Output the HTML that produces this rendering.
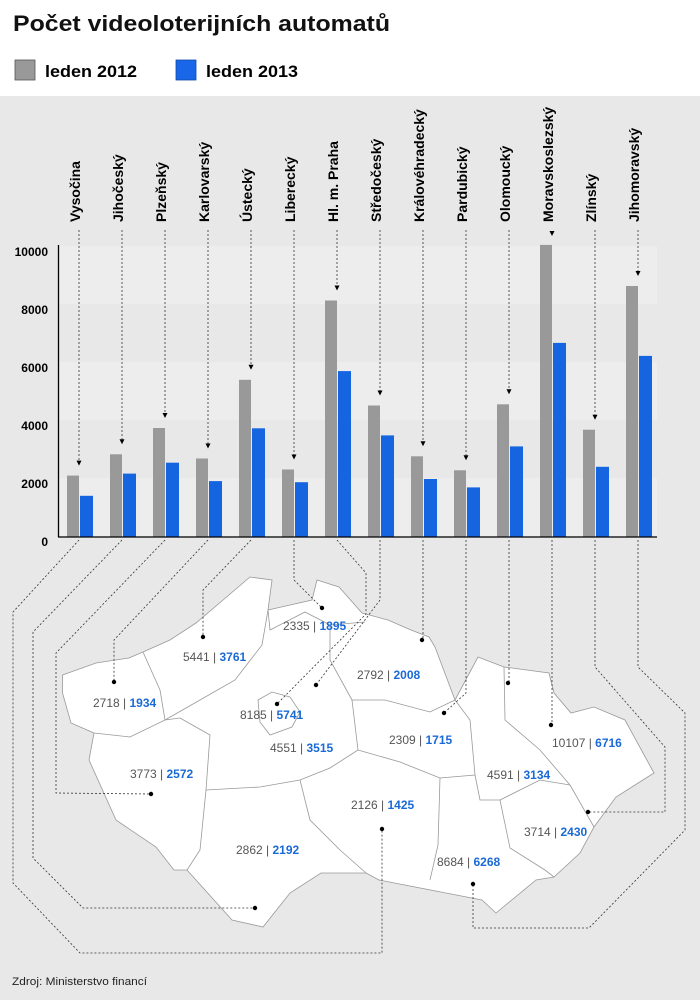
<!DOCTYPE html>
<html><head><meta charset="utf-8"><style>
html,body{margin:0;padding:0;width:700px;height:1000px;overflow:hidden;background:#fff}
svg{display:block}
text{font-family:"Liberation Sans",Arial,sans-serif}
.yl{font-size:12px;font-weight:bold;text-anchor:end}
.rl{font-size:14px;font-weight:bold}
.dl{stroke:#333;stroke-width:0.8;stroke-dasharray:2,2;fill:none}
.g{fill:#555;font-size:12px}
.b{fill:#1a6ad6;font-size:12px;font-weight:bold}
.reg{fill:none;stroke:#999;stroke-width:0.8}
.ga{fill:#999}.bl{fill:#1565e0}
</style></head><body>
<svg width="700" height="1000" viewBox="0 0 700 1000" xmlns="http://www.w3.org/2000/svg">
<rect x="0" y="0" width="700" height="96" fill="#fff"/>
<rect x="0" y="96" width="700" height="904" fill="#e8e8e8"/>
<text x="13" y="31" font-size="22" font-weight="bold" fill="#111" textLength="377" lengthAdjust="spacingAndGlyphs">Počet videoloterijních automatů</text>
<rect x="15" y="60" width="20" height="20" fill="#999" stroke="#555" stroke-width="0.8"/>
<text x="45" y="77" font-size="17" font-weight="bold" textLength="92" lengthAdjust="spacingAndGlyphs">leden 2012</text>
<rect x="176" y="60" width="20" height="20" fill="#1a66e8" stroke="#124ba8" stroke-width="0.8"/>
<text x="206" y="77" font-size="17" font-weight="bold" textLength="92" lengthAdjust="spacingAndGlyphs">leden 2013</text>

<rect x="59" y="246" width="598" height="58" fill="#ededed"/>
<rect x="59" y="362" width="598" height="58" fill="#ededed"/>
<rect x="59" y="478" width="598" height="58" fill="#ededed"/>

<g class="yl">
<text x="48" y="256">10000</text><text x="48" y="314">8000</text><text x="48" y="372">6000</text>
<text x="48" y="430">4000</text><text x="48" y="488">2000</text><text x="48" y="546">0</text>
</g>

<g class="rl">
<text transform="translate(80,222) rotate(-90)">Vysočina</text>
<text transform="translate(123,222) rotate(-90)">Jihočeský</text>
<text transform="translate(166,222) rotate(-90)">Plzeňský</text>
<text transform="translate(209,222) rotate(-90)">Karlovarský</text>
<text transform="translate(252,222) rotate(-90)">Ústecký</text>
<text transform="translate(295,222) rotate(-90)">Liberecký</text>
<text transform="translate(338,222) rotate(-90)">Hl. m. Praha</text>
<text transform="translate(381,222) rotate(-90)">Středočeský</text>
<text transform="translate(424,222) rotate(-90)">Královéhradecký</text>
<text transform="translate(467,222) rotate(-90)">Pardubický</text>
<text transform="translate(510,222) rotate(-90)">Olomoucký</text>
<text transform="translate(553,222) rotate(-90)">Moravskoslezský</text>
<text transform="translate(596,222) rotate(-90)">Zlínský</text>
<text transform="translate(639,222) rotate(-90)">Jihomoravský</text>
</g>

<rect class="ga" x="67" y="475.6" width="12" height="61.4"/><rect class="bl" x="80" y="495.8" width="13" height="41.2"/>
<rect class="ga" x="110" y="454.3" width="12" height="82.7"/><rect class="bl" x="123" y="473.6" width="13" height="63.4"/>
<rect class="ga" x="153" y="428" width="12" height="109"/><rect class="bl" x="166" y="462.7" width="13" height="74.3"/>
<rect class="ga" x="196" y="458.5" width="12" height="78.5"/><rect class="bl" x="209" y="481.1" width="13" height="55.9"/>
<rect class="ga" x="239" y="379.8" width="12" height="157.2"/><rect class="bl" x="252" y="428.3" width="13" height="108.7"/>
<rect class="ga" x="282" y="469.5" width="12" height="67.5"/><rect class="bl" x="295" y="482.2" width="13" height="54.8"/>
<rect class="ga" x="325" y="300.5" width="12" height="236.5"/><rect class="bl" x="338" y="371.1" width="13" height="165.9"/>
<rect class="ga" x="368" y="405.5" width="12" height="131.5"/><rect class="bl" x="381" y="435.4" width="13" height="101.6"/>
<rect class="ga" x="411" y="456.3" width="12" height="80.7"/><rect class="bl" x="424" y="479" width="13" height="58"/>
<rect class="ga" x="454" y="470.3" width="12" height="66.7"/><rect class="bl" x="467" y="487.4" width="13" height="49.6"/>
<rect class="ga" x="497" y="404.3" width="12" height="132.7"/><rect class="bl" x="510" y="446.4" width="13" height="90.6"/>
<rect class="ga" x="540" y="244.9" width="12" height="292.1"/><rect class="bl" x="553" y="342.9" width="13" height="194.1"/>
<rect class="ga" x="583" y="429.7" width="12" height="107.3"/><rect class="bl" x="596" y="466.8" width="13" height="70.2"/>
<rect class="ga" x="626" y="286" width="12" height="251"/><rect class="bl" x="639" y="355.9" width="13" height="181.1"/>

<g class="dl">
<line x1="79" y1="230" x2="79" y2="460.6"/>
<line x1="122" y1="230" x2="122" y2="439.3"/>
<line x1="165" y1="230" x2="165" y2="413"/>
<line x1="208" y1="230" x2="208" y2="443.5"/>
<line x1="251" y1="230" x2="251" y2="364.8"/>
<line x1="294" y1="230" x2="294" y2="454.5"/>
<line x1="337" y1="230" x2="337" y2="285.5"/>
<line x1="380" y1="230" x2="380" y2="390.5"/>
<line x1="423" y1="230" x2="423" y2="441.3"/>
<line x1="466" y1="230" x2="466" y2="455.3"/>
<line x1="509" y1="230" x2="509" y2="389.3"/>
<line x1="595" y1="230" x2="595" y2="414.7"/>
<line x1="638" y1="230" x2="638" y2="271"/>
</g>
<g fill="#000">
<polygon points="76.5,460.6 81.5,460.6 79,465.6"/>
<polygon points="119.5,439.3 124.5,439.3 122,444.3"/>
<polygon points="162.5,413 167.5,413 165,418"/>
<polygon points="205.5,443.5 210.5,443.5 208,448.5"/>
<polygon points="248.5,364.8 253.5,364.8 251,369.8"/>
<polygon points="291.5,454.5 296.5,454.5 294,459.5"/>
<polygon points="334.5,285.5 339.5,285.5 337,290.5"/>
<polygon points="377.5,390.5 382.5,390.5 380,395.5"/>
<polygon points="420.5,441.3 425.5,441.3 423,446.3"/>
<polygon points="463.5,455.3 468.5,455.3 466,460.3"/>
<polygon points="506.5,389.3 511.5,389.3 509,394.3"/>
<polygon points="549.5,231 554.5,231 552,236"/>
<polygon points="592.5,414.7 597.5,414.7 595,419.7"/>
<polygon points="635.5,271 640.5,271 638,276"/>
</g>

<line x1="58.5" y1="245" x2="58.5" y2="537" stroke="#000" stroke-width="1.3"/>
<line x1="58" y1="537" x2="657" y2="537" stroke="#000" stroke-width="1.3"/>

<polygon points="62.5,675 96,663 129,658 143,652 170,640 196,623 250,577 272,580 268,610 312,600 317,580 339,587 362,613 388,620 411,630 429,637 435,647 455,700 478,657 504,667 549,673 554,693 571,713 594,707 625,720 643,753 654,773 616,797 594,827 580,853 554,877 536,880 496,913 482,900 446,893 379,880 366,873 321,873 290,893 263,927 232,920 187,870 174,870 156,847 116,820 89,760 94,733 71,723 62.5,693" fill="#fff" stroke="#999" stroke-width="0.8"/>
<g class="reg">
<polyline points="143,652 160,690 165,720"/>
<polyline points="94,733 130,737 165,720 180,718"/>
<polyline points="165,720 200,700 235,680 262,645 268,610"/>
<polyline points="268,610 270,630 305,612 330,625 365,622"/>
<polyline points="330,625 330,660 352,700"/>
<polyline points="180,718 210,735 206,790 200,850 187,870"/>
<polyline points="206,790 260,787 300,780 330,768 358,750 352,700"/>
<polyline points="300,780 310,820 340,850 366,873"/>
<polyline points="358,750 400,762 440,778 438,845 430,880"/>
<polyline points="352,700 385,700 430,712 455,700"/>
<polyline points="440,778 475,775 470,720 455,700"/>
<polyline points="475,775 480,800 500,800 510,848 545,870 554,877"/>
<polyline points="504,667 505,720 540,750 570,785 594,827"/>
<polyline points="500,800 540,780 570,785"/>
<polygon points="258,700 272,692 290,697 300,712 292,727 270,735 260,722"/>
</g>

<g class="dl">
<polyline points="79,540 13,612 13,883 80,953 382,953 382,829"/>
<polyline points="122,540 33,632 33,858 83,908 255,908"/>
<polyline points="165,540 56,653 56,793 151,794"/>
<polyline points="208,540 114,640 114,682"/>
<polyline points="251,540 203,590 203,637"/>
<polyline points="294,540 294,580 322,608"/>
<polyline points="337,540 366,573 366,614 277,704"/>
<polyline points="380,540 380,600 316,685"/>
<polyline points="423,540 423,640"/>
<polyline points="466,540 466,693 444,713"/>
<polyline points="509,540 509,683"/>
<polyline points="552,540 552,725"/>
<polyline points="595,540 595,667 665,747 665,812 589,812"/>
<polyline points="638,540 638,667 685,713 685,830 589,928 473,928 473,884"/>
</g>
<g fill="#000">
<circle cx="322" cy="608" r="2.2"/><circle cx="203" cy="637" r="2.2"/><circle cx="422" cy="640" r="2.2"/>
<circle cx="114" cy="682" r="2.2"/><circle cx="316" cy="685" r="2.2"/><circle cx="277" cy="704" r="2.2"/>
<circle cx="444" cy="713" r="2.2"/><circle cx="508" cy="683" r="2.2"/><circle cx="551" cy="725" r="2.2"/>
<circle cx="151" cy="794" r="2.2"/><circle cx="588" cy="812" r="2.2"/><circle cx="382" cy="829" r="2.2"/>
<circle cx="473" cy="884" r="2.2"/><circle cx="255" cy="908" r="2.2"/>
</g>
<g>
<text x="283" y="630"><tspan class="g">2335 | </tspan><tspan class="b">1895</tspan></text>
<text x="183" y="661"><tspan class="g">5441 | </tspan><tspan class="b">3761</tspan></text>
<text x="93" y="707"><tspan class="g">2718 | </tspan><tspan class="b">1934</tspan></text>
<text x="357" y="679"><tspan class="g">2792 | </tspan><tspan class="b">2008</tspan></text>
<text x="240" y="719"><tspan class="g">8185 | </tspan><tspan class="b">5741</tspan></text>
<text x="270" y="752"><tspan class="g">4551 | </tspan><tspan class="b">3515</tspan></text>
<text x="389" y="744"><tspan class="g">2309 | </tspan><tspan class="b">1715</tspan></text>
<text x="130" y="778"><tspan class="g">3773 | </tspan><tspan class="b">2572</tspan></text>
<text x="487" y="779"><tspan class="g">4591 | </tspan><tspan class="b">3134</tspan></text>
<text x="552" y="747"><tspan class="g">10107 | </tspan><tspan class="b">6716</tspan></text>
<text x="351" y="809"><tspan class="g">2126 | </tspan><tspan class="b">1425</tspan></text>
<text x="524" y="836"><tspan class="g">3714 | </tspan><tspan class="b">2430</tspan></text>
<text x="236" y="854"><tspan class="g">2862 | </tspan><tspan class="b">2192</tspan></text>
<text x="437" y="866"><tspan class="g">8684 | </tspan><tspan class="b">6268</tspan></text>
</g>
<text x="12" y="985" font-size="11" fill="#222" textLength="135" lengthAdjust="spacingAndGlyphs">Zdroj: Ministerstvo financí</text>
</svg>
</body></html>
